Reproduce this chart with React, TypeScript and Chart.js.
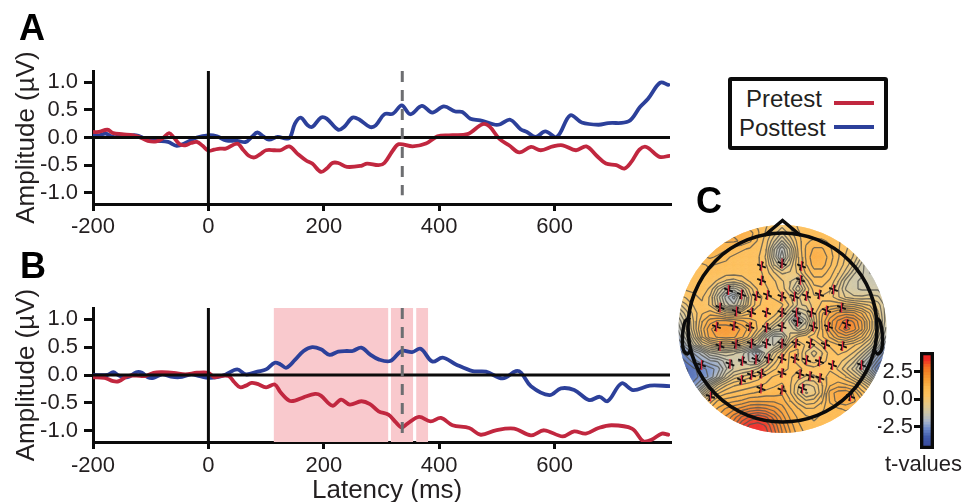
import React, { useEffect, useRef } from "react";
import { Chart, registerables } from "chart.js";

Chart.register(...registerables);

const FONT = '"Liberation Sans", Arial, sans-serif';
const INK = "#231f20";
const RED = "#c1273f";
const BLUE = "#2c409a";
const PINK = "#f9c9cd";
const DASH = "#6d6e71";

const xTicks = [-200, 0, 200, 400, 600];
const yTicks = [-1, -0.5, 0, 0.5, 1];
const peakLatency = 336;

const preLatA = [-200,-190,-175,-165,-150,-130,-120,-105,-90,-80,-68,-60,-50,-40,-30,-20,-10,0,10,20,30,50,60,70,80,90,100,115,125,140,155,170,180,195,205,215,225,240,265,275,295,305,320,330,354,377,397,417,449,475,487,504,521,539,559,576,597,614,637,655,672,689,707,721,733,747,759,782,799];
const preValA = [0.1,0.1,0.14,0.08,0.06,0.04,0.01,-0.06,-0.07,-0.02,0.08,0,-0.12,-0.14,-0.1,-0.08,-0.15,-0.24,-0.22,-0.2,-0.2,-0.11,-0.22,-0.33,-0.36,-0.3,-0.23,-0.23,-0.23,-0.16,-0.3,-0.42,-0.47,-0.62,-0.56,-0.46,-0.46,-0.53,-0.51,-0.47,-0.5,-0.46,-0.23,-0.12,-0.16,-0.11,0.02,0.04,0.06,0.24,0.2,-0.02,-0.14,-0.27,-0.17,-0.23,-0.16,-0.14,-0.23,-0.16,-0.32,-0.47,-0.5,-0.56,-0.44,-0.22,-0.17,-0.35,-0.33];
const postLatA = [-200,-190,-178,-165,-150,-125,-110,-90,-70,-55,-40,-20,0,15,30,50,65,75,85,95,105,120,135,142,150,160,172,180,195,205,225,235,250,262,280,290,305,320,335,350,370,388,408,428,440,454,471,497,506,523,541,552,567,584,604,627,647,676,693,728,748,762,783,797];
const postValA = [0.04,0.04,0.07,0.01,0.02,0.04,-0.02,-0.06,-0.08,-0.15,-0.1,0,0.04,0.02,-0.05,-0.06,-0.08,0.01,0.09,0.02,-0.04,0.01,-0.02,0.01,0.25,0.36,0.22,0.19,0.36,0.34,0.14,0.19,0.36,0.32,0.19,0.22,0.42,0.43,0.58,0.42,0.57,0.45,0.56,0.47,0.46,0.34,0.31,0.23,0.24,0.32,0.15,0.1,0.01,0.11,0.01,0.4,0.27,0.23,0.26,0.29,0.55,0.7,0.99,0.95];

const preLatB = [-200,-180,-165,-155,-140,-125,-110,-95,-80,-60,-40,-20,0,10,20,35,45,55,65,75,85,100,115,125,140,150,165,185,195,215,230,245,265,280,295,312,325,335,345,365,385,403,423,452,472,498,530,559,582,614,634,654,676,699,734,754,768,786,797];
const preValB = [-0.04,-0.05,-0.11,-0.11,-0.02,-0.01,-0.02,0.04,0.05,0.04,0.01,0.04,0.04,-0.04,-0.02,-0.02,-0.13,-0.22,-0.19,-0.14,-0.16,-0.22,-0.17,-0.31,-0.46,-0.46,-0.4,-0.34,-0.37,-0.55,-0.44,-0.53,-0.47,-0.52,-0.65,-0.71,-0.85,-0.94,-0.87,-0.75,-0.83,-0.77,-0.9,-0.95,-1.07,-0.99,-0.96,-1.08,-0.99,-1.1,-1.01,-1.05,-0.95,-0.9,-0.96,-1.19,-1.16,-1.05,-1.07];
const postLatB = [-200,-175,-165,-155,-140,-125,-115,-105,-95,-80,-65,-50,-30,-15,0,15,30,50,65,85,100,115,125,135,150,165,180,195,210,225,240,250,265,280,295,315,335,353,368,388,406,429,458,481,510,533,542,559,591,611,634,660,678,692,716,736,765,799];
const postValB = [0,0,0.05,-0.01,-0.04,0.05,0.04,-0.04,-0.05,0.01,-0.03,-0.04,0.01,-0.02,-0.05,-0.04,0.01,0.1,0.01,0.06,0.1,0.22,0.19,0.13,0.27,0.43,0.5,0.46,0.36,0.42,0.43,0.43,0.49,0.37,0.28,0.25,0.43,0.41,0.47,0.24,0.31,0.19,0.07,0.06,-0.06,0.07,0.04,-0.2,-0.36,-0.24,-0.27,-0.45,-0.39,-0.47,-0.15,-0.27,-0.19,-0.2];

const sigWindows = [[113, 312], [316, 355], [360, 381]];

const colorStops: [number, string][] = [
  [-4.5, "#37479a"], [-3.4, "#3f5aaa"], [-2.6, "#6f8dcb"], [-2, "#a7b5cc"], [-1.2, "#cbc5a9"],
  [-0.5, "#e3ca8b"], [0.4, "#fdc25e"], [1.1, "#fdb94e"], [1.8, "#f9a035"], [2.5, "#f58525"], [3, "#f26a22"], [3.6, "#ee2f24"], [4.3, "#ed1c24"],
];

const colorbarEdges = [-4.5,-4.25,-4,-3.75,-3.5,-3.25,-3,-2.75,-2.5,-2.25,-2,-1.75,-1.5,-1.25,-1,-0.75,-0.5,-0.25,0.01,0.25,0.5,0.75,1,1.25,1.5,1.75,2,2.25,2.5,2.75,3,3.25,3.5,3.75,4,4.3];
const colorbarTicks = [-2.5, 0, 2.5];

const contourLevels = [-3.85,-3.55,-3.25,-2.95,-2.65,-2.35,-2.05,-1.75,-1.45,-1.15,-0.85,-0.55,-0.25,0.05,0.35,0.65,0.95,1.25,1.55,1.85,2.15,2.45,2.75,3.05,3.35,3.65,3.95];

const fieldX = [-104.5,-96.5,-88.5,-80.5,-72.5,-64.5,-56.5,-48.5,-40.5,-32.5,-24.5,-16.5,-8.5,-0.5,7.5,15.5,23.5,31.5,39.5,47.5,55.5,63.5,71.5,79.5,87.5,95.5,103.5];
const fieldY = [102.5,94.5,86.5,78.5,70.5,62.5,54.5,46.5,38.5,30.5,22.5,14.5,6.5,-1.5,-9.5,-17.5,-25.5,-33.5,-41.5,-49.5,-57.5,-65.5,-73.5,-81.5,-89.5,-97.5,-105.5];
const tValues = [
  [1,1,1,1,1,1,1,1,1,1,.9,.7,.4,.2,.4,.7,.8,.8,.8,.8,.6,.4,.2,0,-.2,-.5,-.8],
  [1.2,1.2,1.2,1.2,1.2,1.3,1.4,1.5,1.5,1.4,1,.6,.2,-.3,.2,.6,.8,.8,.8,.8,.7,.5,.2,0,-.3,-.6,-1],
  [1.2,1.2,1.2,1.3,1.4,1.5,1.6,1.6,1.5,1.3,.9,.5,-.2,-.9,-.2,.5,.9,1,1,.9,.7,.5,.2,-.2,-.6,-1,-1.4],
  [1.2,1.2,1.3,1.4,1.4,1.4,1.3,1.1,1,.9,.8,.4,-.8,-1.7,-.8,.4,1,1.3,1.3,1,.7,.4,.1,-.4,-1,-1.6,-2],
  [1.1,1.1,1.2,1.2,1.3,1.2,1,.9,.8,.8,.7,.3,-.9,-2,-.9,.3,1,1.5,1.5,1.1,.7,.3,0,-.6,-1.4,-2.2,-2.6],
  [.9,.9,.9,.9,1,.9,.9,.8,.8,.8,.7,.4,-.5,-1.2,-.5,.3,.9,1.4,1.4,1,.6,.2,-.3,-1,-1.6,-2.3,-2.8],
  [.9,.9,.9,.9,.9,.9,.8,.8,.8,.8,.8,.5,.1,-.3,-.2,.1,.7,1.1,1.1,.8,.4,-.1,-.8,-1.1,-1.4,-2,-2.6],
  [.8,.8,.8,.8,.8,.6,.3,.2,.4,.7,.8,.6,.4,.1,-.2,-.6,.2,.8,.8,.6,.1,-.7,-1.1,-1.2,-1.2,-1.4,-2],
  [.6,.7,.7,.8,.6,-.2,-.8,-1,-.6,.2,.7,.7,.5,.2,-.3,-1.1,-.2,.5,.6,.4,-.2,-.9,-1.1,-1.2,-1.2,-1.2,-1.6],
  [.2,.4,.6,.7,.3,-.7,-1.6,-2.2,-1.2,-.1,.6,.7,.6,.4,.1,-.3,0,.3,.3,.2,-.2,-.6,-.8,-.8,-.7,-.8,-1.2],
  [-.4,0,.4,.6,.3,-.5,-1.3,-1.7,-1,0,.6,.8,.8,.7,.3,-.3,-.2,.2,.4,.5,.6,.5,.4,.2,0,-.4,-1],
  [-1,-.4,.2,.6,.8,.6,.2,.1,.3,.6,.9,.9,.8,.4,-.3,-1,-.7,.2,.9,1.3,1.6,1.7,1.6,1.2,.6,-.2,-1],
  [-1.4,-.7,.1,.9,1.4,1.6,1.6,1.5,1.3,1.1,.9,.7,.4,-.2,-1,-2,-1.2,0,1,1.7,2.2,2.6,2.4,1.8,.9,0,-1],
  [-1.7,-.9,.1,1.1,1.8,2.1,2.1,2,1.8,1.4,.9,.3,-.4,-.6,-.6,-1.2,-.8,.1,.9,1.7,2.4,2.9,2.6,1.9,.9,-.1,-1.2],
  [-2,-1.3,-.2,.9,1.7,1.9,2,1.9,1.6,1.1,.3,-.8,-1.6,-1.5,-.5,.1,.3,.5,.9,1.3,1.8,2,1.7,1.2,.5,-.5,-1.5],
  [-2.4,-1.8,-.8,0,.4,.7,.8,.7,.4,0,-.5,-1.2,-1.5,-.9,.2,.6,.3,.1,.4,.7,.9,.9,.7,.4,-.1,-.9,-2],
  [-2.9,-2.5,-2,-1.6,-.9,-.7,-.6,-.8,-1,-1.6,-2.3,-1.3,-.5,.1,.7,.7,0,-.4,0,.5,.7,.6,.3,-.2,-.9,-1.8,-2.6],
  [-3.3,-2.9,-2.5,-2.1,-1.8,-1.7,-1.3,-1.1,-1.2,-1.5,-1.6,-.8,-.1,.4,.7,.6,.1,-.1,.2,.5,.5,.2,-.2,-.9,-1.6,-2.4,-3],
  [-3.6,-3.3,-3,-2.8,-2.5,-2.2,-1.5,-1.1,-.9,-.8,-.5,-.1,.3,.5,.7,.7,.6,.5,.6,.6,.3,-.2,-.7,-1.4,-2.2,-3,-3.4],
  [-3.5,-3.3,-3.1,-2.8,-2.6,-1.9,-1,-.4,-.2,0,.2,.5,.7,.8,.7,.5,.3,.3,.5,.8,.7,.4,-.1,-.6,-1.3,-2.2,-3],
  [-3.2,-3.1,-2.8,-2.2,-1.3,-.5,0,.3,.4,.5,.6,.7,.9,1,.7,.1,-.3,-.2,.3,.9,1.1,1,.8,.3,-.3,-1.2,-2.2],
  [-2.8,-2.6,-2.1,-1.2,-.3,.3,.6,.7,.8,.9,1,1.1,1.1,1.2,.7,0,-.6,-.4,.3,1.4,1.7,1.8,1.5,.8,.4,-.2,-1],
  [-2.2,-1.8,-1,-.1,.5,1,1.1,1.2,1.3,1.5,1.5,1.5,1.5,1.4,1,.5,.1,.2,.6,1.3,1.7,1.8,1.6,1.3,.7,.4,0],
  [-1.5,-1,-.2,.5,1,1.3,1.6,1.8,2,2.2,2.3,2.2,2,1.7,1.3,1,.7,.7,.9,1.1,1.2,1.3,1.2,1.1,.8,.6,.4],
  [-.8,-.3,.3,.9,1.3,1.6,1.9,2.3,2.8,3.1,3.3,3.1,2.6,2,1.5,1.2,1,.9,1,1.1,1.1,1.1,1,.9,.7,.5,.4],
  [-.3,.2,.6,1.1,1.5,1.8,2.1,2.7,3.3,3.7,3.8,3.6,3,2.3,1.7,1.3,1.1,1,1,1,1,.9,.8,.7,.6,.5,.4],
  [0,.3,.7,1.2,1.6,2,2.4,3,3.6,4,4,3.8,3.2,2.5,1.9,1.4,1.2,1.1,1,1,1,.9,.8,.7,.6,.5,.4],
];

const electrodeX = [-21,-0.5,19,-21,18,-54,51,-41,-26,-15,-0.5,12,24,37,-62.5,-46,-31,-16,-0.5,14,29,44,59,-66,-48.5,-32.5,-16,-0.5,15,31,46,64,-62.5,-46.5,-31,-16,-0.5,13.5,28,43,60,-81,-52.5,-40,-26.5,-14,-0.5,12.5,24,37,50,79,-41,-31,-21,-0.5,17.5,27.5,37.5,-21.5,-0.5,20,-72,68];
const electrodeY = [61.5,64,61.5,47,47.5,37.5,38,33,31.5,32.5,31,31,31.5,33,20,16,15,15,15,15,15,17,20,0.8,1.5,0.8,0,0.8,5.8,0.8,0.8,3.5,-18.5,-16.5,-16,-16,-16,-16,-16,-17,-18.5,-37.5,-36.5,-33.5,-32,-31,-31,-31,-32.5,-34,-37.5,-37.5,-52.5,-47.5,-46,-45.5,-46.5,-48.5,-50.5,-61,-62.5,-61,-69,-69];

const noseX = [-18, 0, 18];
const noseY = [92, 107, 92];
const earLeftX = [-92.5,-97.5,-100,-99,-95,-91.5];
const earLeftY = [10,6,-9,-22.5,-26.5,-21];
const earRightX = [93.5,97.5,100,99,95,91];
const earRightY = [10,6,-9,-22.5,-26.5,-21];

const zip = (xs: number[], ys: number[]) => xs.map((x, i) => ({ x, y: ys[i] }));

function tColor(t: number) {
  for (let i = 1; i < colorStops.length; i++) {
    if (t <= colorStops[i][0]) {
      const [a, ca] = colorStops[i - 1];
      const [b, cb] = colorStops[i];
      const f = Math.max(0, (t - a) / (b - a));
      const ch = (c: string, k: number) => parseInt(c.slice(1 + k * 2, 3 + k * 2), 16);
      const mix = [0, 1, 2].map((k) => Math.round(ch(ca, k) + (ch(cb, k) - ch(ca, k)) * f));
      return `rgb(${mix.join(",")})`;
    }
  }
  return colorStops[colorStops.length - 1][1];
}

function contourPoints() {
  const out: { x: number; y: number }[] = [];
  const cross = (v1: number, v2: number, x1: number, y1: number, x2: number, y2: number, L: number) => {
    const f = (L - v1) / (v2 - v1);
    return { x: x1 + (x2 - x1) * f, y: y1 + (y2 - y1) * f };
  };
  for (const L of contourLevels) {
    for (let j = 0; j < fieldY.length - 1; j++) {
      for (let i = 0; i < fieldX.length - 1; i++) {
        const a = tValues[j][i], b = tValues[j][i + 1], c = tValues[j + 1][i + 1], d = tValues[j + 1][i];
        const x0 = fieldX[i], x1 = fieldX[i + 1], y0 = fieldY[j], y1 = fieldY[j + 1];
        const p: { x: number; y: number }[] = [];
        if (a < L !== b < L) p.push(cross(a, b, x0, y0, x1, y0, L));
        if (b < L !== c < L) p.push(cross(b, c, x1, y0, x1, y1, L));
        if (c < L !== d < L) p.push(cross(c, d, x1, y1, x0, y1, L));
        if (d < L !== a < L) p.push(cross(d, a, x0, y1, x0, y0, L));
        for (let k = 0; k + 1 < p.length; k += 2) {
          out.push(p[k], p[k + 1], { x: NaN, y: NaN });
        }
      }
    }
  }
  return out;
}

const scalpPlugin = {
  id: "scalp",
  beforeDatasetDraw(chart: any, args: any) {
    const ds = chart.data.datasets[args.index];
    if (!ds.clipScalp) return;
    const { ctx, scales } = chart;
    const cx = scales.x.getPixelForValue(0);
    const cy = scales.y.getPixelForValue(-1.5);
    const r = Math.abs(scales.x.getPixelForValue(104) - cx);
    ctx.save();
    ctx.beginPath();
    ctx.arc(cx, cy, r, 0, Math.PI * 2);
    ctx.clip();
    if (ds.blurPx) ctx.filter = `blur(${ds.blurPx}px)`;
  },
  afterDatasetDraw(chart: any, args: any) {
    if (chart.data.datasets[args.index].clipScalp) chart.ctx.restore();
  },
  afterDatasetsDraw(chart: any) {
    const { ctx, scales } = chart;
    const cx = scales.x.getPixelForValue(0);
    const cy = scales.y.getPixelForValue(0);
    const r = Math.abs(scales.x.getPixelForValue(94.5) - cx);
    ctx.save();
    ctx.beginPath();
    ctx.arc(cx, cy, r, 0, Math.PI * 2);
    ctx.lineWidth = 3.6;
    ctx.strokeStyle = "#0b0b0b";
    ctx.stroke();
    ctx.restore();
  },
};

function erpConfig(pre: any[], post: any[], opts: { windows: number[][]; dashBottom: number; top: number; xHeight: number; tickPad: number }) {
  const yMax = 1.2, yMin = -1.2;
  const bands = opts.windows.map((w) => ({
    label: "Significant window",
    data: [{ x: w[0], y: yMax }, { x: w[1], y: yMax }],
    borderWidth: 0,
    pointRadius: 0,
    backgroundColor: PINK,
    fill: { value: yMin },
    order: 10,
  }));
  const trace = (label: string, data: any[], color: string, order: number) => ({
    label, data, borderColor: color, borderWidth: 3.8, pointRadius: 0,
    tension: 0.35, borderCapStyle: "round", borderJoinStyle: "round", fill: false, order,
  });
  const rule = (label: string, data: any[], color: string, width: number, order: number, dash: number[] = []) => ({
    label, data, borderColor: color, borderWidth: width, pointRadius: 0, borderDash: dash, fill: false, order,
  });
  return {
    type: "line",
    data: {
      datasets: [
        ...bands,
        trace("Posttest", post, BLUE, 6),
        trace("Pretest", pre, RED, 5),
        rule("Baseline", [{ x: -200, y: 0 }, { x: 800, y: 0 }], "#0b0b0b", 3, 4),
        rule("Stimulus onset", [{ x: 0, y: yMin }, { x: 0, y: yMax }], "#0b0b0b", 3, 3),
        rule("Peak latency", [{ x: peakLatency, y: yMax }, { x: peakLatency, y: opts.dashBottom }], DASH, 3, 2, [11, 8]),
      ],
    },
    options: {
      animation: false,
      responsive: false,
      layout: { autoPadding: false, padding: { top: opts.top, right: 30, left: 0, bottom: 0 } },
      plugins: { legend: { display: false }, tooltip: { enabled: false } },
      scales: {
        x: {
          type: "linear", min: -200, max: 800,
          afterBuildTicks: (s: any) => { s.ticks = xTicks.map((value) => ({ value })); },
          afterFit: (s: any) => { s.height = opts.xHeight; },
          grid: { drawOnChartArea: false, color: "#0b0b0b", lineWidth: 3, tickLength: 7 },
          border: { color: "#0b0b0b", width: 3 },
          ticks: { color: INK, font: { family: FONT, size: 22 }, padding: opts.tickPad, maxRotation: 0, autoSkip: false },
        },
        y: {
          type: "linear", min: yMin, max: yMax,
          afterBuildTicks: (s: any) => { s.ticks = yTicks.map((value) => ({ value })); },
          afterFit: (s: any) => { s.width = 93; },
          grid: { drawOnChartArea: false, color: "#0b0b0b", lineWidth: 3, tickLength: 9 },
          border: { color: "#0b0b0b", width: 3 },
          ticks: { color: INK, font: { family: FONT, size: 22 }, padding: 6, callback: (v: number) => v.toFixed(1), autoSkip: false },
          title: { display: true, text: "Amplitude (µV)", color: INK, font: { family: FONT, size: 26 }, padding: { top: 11, bottom: 0 } },
        },
      },
    },
  };
}

function topoConfig() {
  const cells: any[] = [];
  const colors: string[] = [];
  fieldY.forEach((y, j) => fieldX.forEach((x, i) => {
    cells.push({ x, y });
    colors.push(tColor(tValues[j][i]));
  }));
  const outline = (label: string, data: any[], order: number) => ({
    label, data, showLine: true, borderColor: "#0b0b0b", borderWidth: 3.4, pointRadius: 0, tension: 0.35, order,
  });
  return {
    type: "scatter",
    data: {
      datasets: [
        { label: "t-values", data: cells, pointStyle: "rect", pointRadius: 7.8, pointBorderWidth: 0, borderWidth: 0, backgroundColor: colors, clipScalp: true, blurPx: 3, order: 9 },
        { label: "contours", data: contourPoints(), showLine: true, spanGaps: false, borderColor: "rgba(85,85,80,0.8)", borderWidth: 1.3, pointRadius: 0, clipScalp: true, order: 8 },
        { label: "electrodes", data: zip(electrodeX, electrodeY), pointStyle: "cross", rotation: 20, pointRadius: 4.6, pointBorderWidth: 1.8, pointBorderColor: "#111", order: 7 },
        { label: "electrode peaks", data: zip(electrodeX, electrodeY), pointStyle: "line", rotation: 90, pointRadius: 5, pointBorderWidth: 1.3, pointBorderColor: "#d7263d", order: 6 },
        { ...outline("nose", zip(noseX, noseY), 5), tension: 0 },
        outline("left ear", zip(earLeftX, earLeftY), 4),
        outline("right ear", zip(earRightX, earRightY), 3),
      ],
    },
    options: {
      animation: false,
      responsive: false,
      layout: { autoPadding: false, padding: 0 },
      plugins: { legend: { display: false }, tooltip: { enabled: false } },
      scales: {
        x: { type: "linear", display: false, min: -113.5, max: 113.5 },
        y: { type: "linear", display: false, min: -113.5, max: 113.5 },
      },
    },
  };
}

function colorbarConfig() {
  const steps = colorbarEdges.slice(0, -1).map((lo, i) => ({
    label: "t",
    data: [[lo, colorbarEdges[i + 1] + 0.1]],
    backgroundColor: tColor((lo + colorbarEdges[i + 1]) / 2),
    borderWidth: 0,
    order: 100 - i,
  }));
  return {
    type: "bar",
    data: {
      labels: ["t-values"],
      datasets: [
        ...steps,
        { label: "frame", data: [[-4.5, 4.3]], backgroundColor: "transparent", borderColor: "#0b0b0b", borderWidth: 3, borderSkipped: false, order: 1 },
      ],
    },
    options: {
      animation: false,
      responsive: false,
      layout: { autoPadding: false, padding: { top: 17, bottom: 16, left: 0, right: 0 } },
      plugins: { legend: { display: false }, tooltip: { enabled: false } },
      datasets: { bar: { grouped: false, barPercentage: 1, categoryPercentage: 1 } },
      scales: {
        x: { display: false },
        y: {
          type: "linear", min: -4.5, max: 4.3,
          afterBuildTicks: (s: any) => { s.ticks = colorbarTicks.map((value) => ({ value })); },
          afterFit: (s: any) => { s.width = 42; },
          grid: { drawOnChartArea: false, color: "#0b0b0b", lineWidth: 3, tickLength: 6 },
          border: { display: false },
          ticks: { color: INK, font: { family: FONT, size: 22 }, padding: 1, callback: (v: number) => v.toFixed(1), autoSkip: false },
        },
      },
    },
  };
}

function Panel({ make, plugins, left, top, width, height }: any) {
  const ref = useRef<HTMLCanvasElement>(null);
  useEffect(() => {
    const chart = new Chart(ref.current as any, { ...make(), plugins: plugins || [] } as any);
    return () => chart.destroy();
  }, []);
  return <canvas ref={ref} width={width} height={height} style={{ position: "absolute", left, top, width, height }} />;
}

const text = (content: string, left: number, top: number, size: number, bold = false, color = INK) => (
  <div style={{ position: "absolute", left, top, fontFamily: FONT, fontSize: size, fontWeight: bold ? 700 : 400, color, lineHeight: 1, whiteSpace: "nowrap" }}>{content}</div>
);

export default function App() {
  return (
    <div style={{ position: "fixed", left: 0, top: 0, width: 962, height: 502, overflow: "hidden", background: "#fff", filter: "blur(0.55px)" }}>
      <Panel left={0} top={0} width={700} height={250}
        make={() => erpConfig(zip(preLatA, preValA), zip(postLatA, postValA), { windows: [], dashBottom: -1.04, top: 71, xHeight: 46, tickPad: 3 })} />
      <Panel left={0} top={250} width={700} height={252}
        make={() => erpConfig(zip(preLatB, preValB), zip(postLatB, postValB), { windows: sigWindows, dashBottom: -1.06, top: 58, xHeight: 60, tickPad: 4 })} />
      <Panel left={669} top={214} width={227} height={227} make={topoConfig} plugins={[scalpPlugin]} />
      <Panel left={878} top={335} width={56} height={130} make={colorbarConfig} />
      {text("A", 19, 10, 36, true, "#000")}
      {text("B", 20, 248, 36, true, "#000")}
      {text("C", 696, 183, 36, true, "#000")}
      {text("Latency (ms)", 312, 476, 26)}
      {text("t-values", 885, 453, 22)}
      <div style={{ position: "absolute", left: 728, top: 77, width: 160, height: 73, boxSizing: "border-box", border: "4px solid #0b0b0b", borderRadius: 3 }} />
      {text("Pretest", 746, 87, 24)}
      {text("Posttest", 739, 116, 24)}
      <div style={{ position: "absolute", left: 834, top: 101, width: 40, height: 4, background: RED }} />
      <div style={{ position: "absolute", left: 834, top: 125, width: 40, height: 4, background: BLUE }} />
    </div>
  );
}
